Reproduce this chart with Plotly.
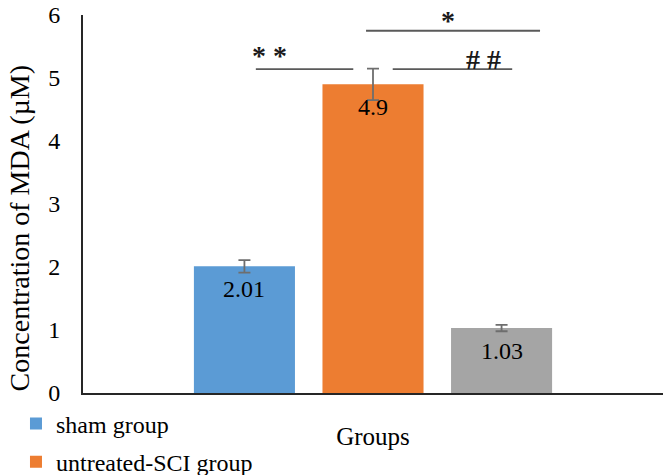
import plotly.graph_objects as go

# valores
groups = ["sham group", "untreated-SCI group", "treated group"]
mda = [2.01, 4.9, 1.03]
mda_err = [0.10, 0.25, 0.05]
colors = ["#5B9BD5", "#ED7D31", "#A5A5A5"]
category = ["Groups"]

FONT = "Liberation Serif"
BARGAP = 0.335

fig = go.Figure()

for i, (name, val, err, cor) in enumerate(zip(groups, mda, mda_err, colors)):
    fig.add_trace(go.Bar(
        x=category,
        y=[val],
        name=name,
        legendgroup=name,
        showlegend=i < 2,  # a terceira entrada fica fora da imagem original
        marker=dict(color=cor, line=dict(width=0)),
        error_y=dict(type="data", array=[err], color="#6E6E6E", thickness=1.8, width=6),
    ))
    # rótulo de dados dentro da barra, perto do topo
    fig.add_annotation(
        x=(i - 1) * (1 - BARGAP) / 3, y=val, xref="x", yref="y",
        text=f"{val:g}", showarrow=False, yanchor="middle", yshift=-23,
        font=dict(family=FONT, size=24, color="black"),
    )

# linhas de significância
linhas = [
    (0.298, 0.466, 5.14),
    (0.534, 0.740, 5.14),
    (0.488, 0.788, 5.75),
]
for x0, x1, yv in linhas:
    fig.add_shape(type="line", xref="paper", yref="y", x0=x0, x1=x1, y0=yv, y1=yv,
                  line=dict(color="#5A5A5A", width=1.8))

marcas = [("* *", 0.321, 5.36, 28), ("# #", 0.690, 5.29, 28), ("*", 0.629, 5.91, 28)]
for txt, xp, yv, sz in marcas:
    fig.add_annotation(text=f"<b>{txt}</b>", xref="paper", yref="y", x=xp, y=yv,
                       xanchor="center", yanchor="middle", showarrow=False,
                       font=dict(family=FONT, size=sz, color="#1A1A1A"))

# título do eixo y (um pouco abaixo do centro, como no original)
fig.add_annotation(
    text="Concentration of MDA (µM)", xref="paper", yref="paper",
    x=-0.110, y=0.436, xanchor="center", yanchor="middle",
    textangle=-90, showarrow=False,
    font=dict(family=FONT, size=28, color="black"),
)

fig.update_layout(
    width=666,
    height=475,
    barmode="group",
    bargap=BARGAP,
    bargroupgap=0.214,
    plot_bgcolor="white",
    paper_bgcolor="white",
    font=dict(family=FONT, size=24, color="black"),
    margin=dict(l=83, r=3, t=15, b=82, autoexpand=False),
    showlegend=True,
    legend=dict(
        orientation="v",
        xref="container", x=0.024, xanchor="left",
        yref="container", y=0.155, yanchor="top",
        font=dict(family=FONT, size=24),
        tracegroupgap=4,
        itemclick=False,
    ),
    xaxis=dict(
        range=[-0.5, 0.5],
        showticklabels=False,
        ticks="",
        showline=True,
        linecolor="#262626",
        linewidth=2,
        automargin=False,
        title=dict(text="Groups", standoff=33, font=dict(size=25)),
    ),
    yaxis=dict(
        range=[0, 6],
        dtick=1,
        showgrid=False,
        zeroline=False,
        showline=True,
        linecolor="#262626",
        linewidth=2,
        ticks="",
        ticklabelstandoff=16,
        ticklabeloverflow="allow",
        automargin=False,
    ),
)

# tira a margem padrão do body para a figura ocupar a janela inteira
fig.write_html(
    "out.html",
    config={"displayModeBar": False},
    post_script="document.body.style.margin = '0';",
)
